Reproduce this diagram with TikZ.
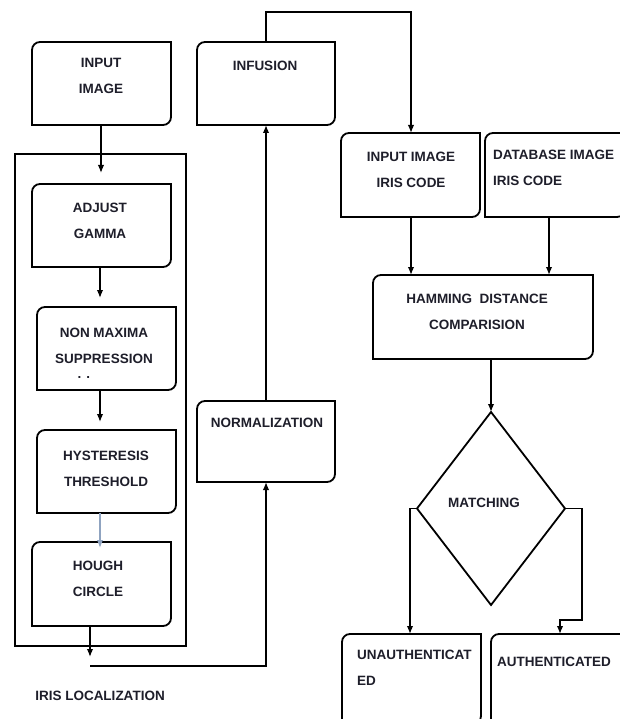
\documentclass[tikz,border=0pt]{standalone}
\usepackage{fontspec}
\setmainfont{Liberation Sans}
\usetikzlibrary{arrows.meta,shapes.geometric}
\definecolor{txtc}{HTML}{1E1E2A}
\definecolor{pale}{HTML}{8FA3C0}
\tikzset{
  ln/.style={line width=1.8pt, black},
  con/.style={line width=1.5pt, black, -{Latex[length=8pt,width=6.5pt]}},
  boxn/.style={draw=none, inner sep=0pt, outer sep=0pt, anchor=north west},
  txt/.style={font=\fontsize{13.5}{26}\selectfont\bfseries, text=txtc, align=center, inner sep=0pt},
  txtl/.style={font=\fontsize{13.5}{26}\selectfont\bfseries, text=txtc, align=left, inner sep=0pt, anchor=west},
}
\newcommand\rbx[1]{%
  \draw[ln] (#1.south west) -- ([yshift=-8pt]#1.north west)
    arc[start angle=180,end angle=90,radius=8pt] -- (#1.north east)
    -- ([yshift=8pt]#1.south east)
    arc[start angle=0,end angle=-90,radius=8pt] -- cycle;}
\begin{document}
\begin{tikzpicture}[x=1pt,y=1pt]
\useasboundingbox[fill=white] (0,0) rectangle (619,-719);
% outer localization box
\node[boxn, draw, line width=1.8pt, minimum width=171pt, minimum height=492pt] (outer) at (15,-154) {};
% boxes
\node[boxn, minimum width=139pt, minimum height=83pt] (inimg) at (32,-42) {};
\node[boxn, minimum width=138pt, minimum height=83pt] (infu) at (197,-42) {};
\node[boxn, minimum width=139pt, minimum height=83pt] (gamma) at (32,-184) {};
\node[boxn, minimum width=139pt, minimum height=83pt] (nonmax) at (37,-307) {};
\node[boxn, minimum width=139pt, minimum height=83pt] (hyst) at (37,-430) {};
\node[boxn, minimum width=139pt, minimum height=84pt] (hough) at (32,-542) {};
\node[boxn, minimum width=138pt, minimum height=81pt] (norm) at (197,-401) {};
\node[boxn, minimum width=139pt, minimum height=84pt] (incode) at (341,-133) {};
\node[boxn, minimum width=140pt, minimum height=84pt] (dbcode) at (485,-133) {};
\node[boxn, minimum width=220pt, minimum height=84pt] (ham) at (373,-275) {};
\node[boxn, minimum width=139pt, minimum height=90pt] (unauth) at (342,-634) {};
\node[boxn, minimum width=140pt, minimum height=90pt] (auth) at (491,-634) {};
\foreach \b in {inimg,infu,gamma,nonmax,hyst,hough,norm,incode,dbcode,ham,unauth,auth} {\rbx{\b}}
\node[diamond, draw, line width=1.8pt, inner sep=0pt, outer sep=0pt, minimum width=148pt, minimum height=193pt] (match) at (491,-508.5) {};
% texts
\node[txt] (t1) at (101,-76) {INPUT\\IMAGE};
\node[txt] (t2) at (265,-66) {INFUSION};
\node[txt] (t3) at (100,-221) {ADJUST\\GAMMA};
\node[txt] (t4) at (104,-346) {NON MAXIMA\\SUPPRESSION};
\node[txt] (t4b) at (84,-377) {. .};
\node[txt] (t5) at (106,-469) {HYSTERESIS\\THRESHOLD};
\node[txt] (t6) at (98,-579) {HOUGH\\CIRCLE};
\node[txt] (t7) at (267,-423) {NORMALIZATION};
\node[txt] (t8) at (411,-170) {INPUT IMAGE\\IRIS CODE};
\node[txtl] (t9) at (493,-168) {DATABASE IMAGE\\IRIS CODE};
\node[txt] (t10) at (477,-312) {HAMMING\ \ DISTANCE\\COMPARISION};
\node[txt] (t11) at (484,-503) {MATCHING};
\node[txtl] (t12) at (357,-668) {UNAUTHENTICAT\\ED};
\node[txtl] (t13) at (497,-662) {AUTHENTICATED};
\node[txt] (t14) at (100,-696) {IRIS LOCALIZATION};
% connectors
\coordinate (a1) at (101,-173);
\draw[con] (inimg.south -| a1) -- (a1);
\coordinate (a2) at (100,-298);
\draw[con] (gamma.south -| a2) -- (a2);
\coordinate (a3) at (100,-422);
\draw[con] (nonmax.south -| a3) -- (a3);
\coordinate (a4) at (100,-548);
\draw[con, pale] (hyst.south -| a4) -- (a4);
\coordinate (a5) at (90,-657);
\draw[con] (hough.south -| a5) -- (a5);
\coordinate (a6) at (90,-666);
\draw[con] (a6) -| (norm.south);
\draw[con] (norm.north) -- (infu.south);
\coordinate (a7) at (266,-12);
\coordinate (a8) at (411,-12);
\draw[con] (infu.north) -- (a7) -- (a8) -- (incode.north -| a8);
\draw[con] (incode.south -| a8) -- (ham.north -| a8);
\coordinate (a9) at (549,-217);
\draw[con] (a9) -- (ham.north -| a9);
\draw[con] (ham.south -| match.north) -- (match.north);
\coordinate (a10) at (410,-508.5);
\draw[con] (match.west) -- (a10) -- (unauth.north -| a10);
\coordinate (a11) at (582,-508.5);
\coordinate (a12) at (582,-620);
\coordinate (a13) at (560,-620);
\draw[con] (match.east) -- (a11) -- (a12) -- (a13) -- (auth.north -| a13);
\end{tikzpicture}
\end{document}
